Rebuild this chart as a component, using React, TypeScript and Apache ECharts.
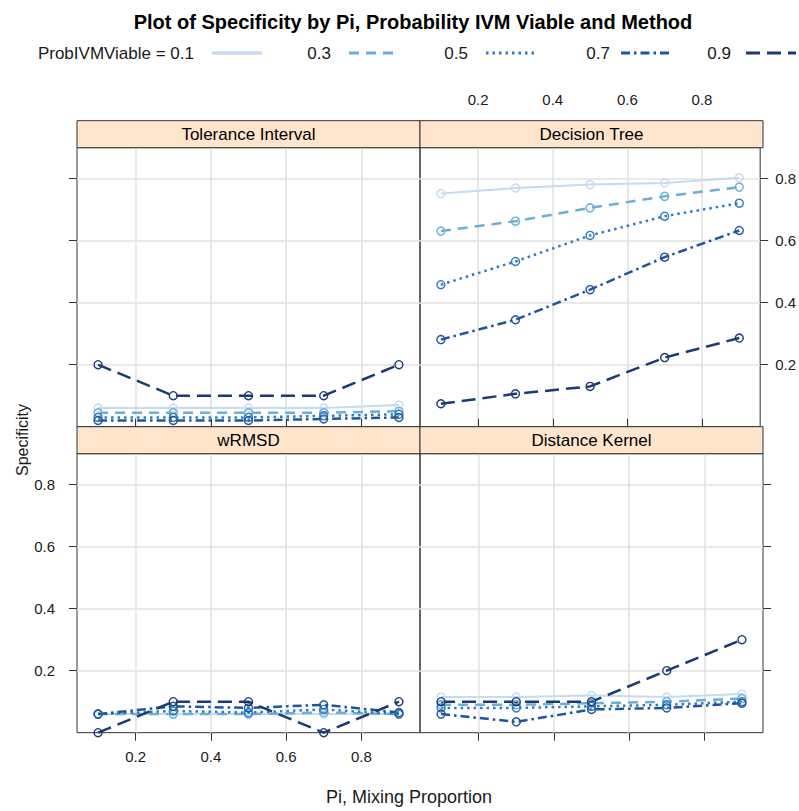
import React, { useEffect, useRef } from 'react';
import * as echarts from 'echarts';

// ---------- data ----------
const piValues = [0.1, 0.3, 0.5, 0.7, 0.9];
const probLevels = ['0.1', '0.3', '0.5', '0.7', '0.9'];
const methodNames = ['Tolerance Interval', 'Decision Tree', 'wRMSD', 'Distance Kernel'];
const xTickValues = [0.2, 0.4, 0.6, 0.8];
const yTickValues = [0.2, 0.4, 0.6, 0.8];

// rows: ProbIVMViable 0.1, 0.3, 0.5, 0.7, 0.9 ; columns: Pi 0.1..0.9
const toleranceInterval = [
  [0.06, 0.06, 0.06, 0.06, 0.07],
  [0.045, 0.045, 0.045, 0.045, 0.05],
  [0.03, 0.03, 0.03, 0.035, 0.04],
  [0.02, 0.02, 0.02, 0.025, 0.03],
  [0.2, 0.1, 0.1, 0.1, 0.2],
];
const decisionTree = [
  [0.752, 0.77, 0.781, 0.786, 0.803],
  [0.631, 0.663, 0.706, 0.743, 0.773],
  [0.458, 0.533, 0.617, 0.679, 0.721],
  [0.281, 0.345, 0.442, 0.547, 0.633],
  [0.074, 0.106, 0.13, 0.223, 0.286],
];
const wRMSD = [
  [0.06, 0.06, 0.06, 0.06, 0.06],
  [0.06, 0.06, 0.06, 0.065, 0.06],
  [0.06, 0.07, 0.065, 0.075, 0.06],
  [0.06, 0.085, 0.08, 0.09, 0.065],
  [0.0, 0.1, 0.1, 0.0, 0.1],
];
const distanceKernel = [
  [0.115, 0.115, 0.12, 0.115, 0.125],
  [0.09, 0.09, 0.095, 0.1, 0.11],
  [0.08, 0.08, 0.085, 0.09, 0.1],
  [0.06, 0.035, 0.075, 0.08, 0.095],
  [0.1, 0.1, 0.1, 0.2, 0.3],
];
const methodData = [toleranceInterval, decisionTree, wRMSD, distanceKernel];

// ---------- styles ----------
const FONT = '"Liberation Sans Narrow", "Arial Narrow", "Liberation Sans", Arial, sans-serif';
const levelColors = ['#c6dbef', '#6baed6', '#2f7bbf', '#1f559e', '#1b3a72'];
const levelDash: any[] = ['solid', [10, 7], [2.5, 4], [9, 4, 2.5, 4], [14, 7]];
const levelWidth = [2, 2.5, 2.5, 2.5, 2.5];
const stripFill = '#ffe5cc';
const frameColor = '#333333';
const textColor = '#1a1a1a';

const panelW = 343;
const panelH = 279;
const stripH = 27;
const colLeft = [77, 420];
const rowTop = [147.7, 453.7];

export default function App() {
  const ref = useRef<HTMLDivElement>(null);

  useEffect(() => {
    document.body.style.margin = '0';
    if (!ref.current) return;
    const chart = echarts.init(ref.current, null, { renderer: 'svg' });

    const panels = [0, 1, 2, 3].map((i) => ({
      left: colLeft[i % 2],
      top: rowTop[Math.floor(i / 2)],
    }));

    const grids = panels.map((p) => ({
      left: p.left,
      top: p.top,
      width: panelW,
      height: panelH,
      show: true,
      borderColor: frameColor,
      borderWidth: 1,
      backgroundColor: 'transparent',
    }));

    // lattice-style alternating axes
    const xLabelShown = [false, true, true, false];
    const yLabelShown = [false, true, true, false];

    const xAxes = panels.map((_, i) => {
      const isTop = i < 2;
      return {
        type: 'value',
        gridIndex: i,
        min: 0.044,
        max: 0.956,
        position: isTop ? 'top' : 'bottom',
        offset: isTop ? stripH : 0,
        axisLine: { show: false },
        axisTick: {
          show: true,
          inside: false,
          length: 8,
          lineStyle: { color: frameColor, width: 1 },
          customValues: xTickValues,
        },
        axisLabel: {
          show: xLabelShown[i],
          customValues: xTickValues,
          formatter: (v: number) => v.toFixed(1),
          fontFamily: FONT,
          fontSize: 15,
          color: textColor,
          margin: isTop ? 14 : 16,
        },
        splitLine: { show: true, lineStyle: { color: '#e2e2e2', width: 1.6 } },
      };
    });

    const yAxes = panels.map((_, i) => {
      const isLeft = i % 2 === 0;
      return {
        type: 'value',
        gridIndex: i,
        min: 0,
        max: 0.9,
        position: isLeft ? 'left' : 'right',
        axisLine: { show: false },
        axisTick: {
          show: true,
          inside: false,
          length: 8,
          lineStyle: { color: frameColor, width: 1 },
          customValues: yTickValues,
        },
        axisLabel: {
          show: yLabelShown[i],
          customValues: yTickValues,
          formatter: (v: number) => v.toFixed(1),
          fontFamily: FONT,
          fontSize: 15,
          color: textColor,
          margin: isLeft ? 22 : 15,
        },
        splitLine: { show: true, lineStyle: { color: '#e2e2e2', width: 1.6 } },
      };
    });

    const series: any[] = [];
    methodData.forEach((rows, m) => {
      rows.forEach((vals, l) => {
        series.push({
          type: 'line',
          name: `${methodNames[m]} ProbIVMViable=${probLevels[l]}`,
          xAxisIndex: m,
          yAxisIndex: m,
          data: piValues.map((x, k) => [x, vals[k]]),
          symbol: 'circle',
          symbolSize: 8,
          showSymbol: true,
          clip: false,
          itemStyle: { color: 'transparent', borderColor: levelColors[l], borderWidth: 1.4 },
          lineStyle: { color: levelColors[l], width: levelWidth[l], type: levelDash[l] },
          emphasis: { disabled: true },
          z: 3,
        });
      });
    });

    const graphics: any[] = [];
    // title
    graphics.push({
      type: 'text',
      x: 413,
      y: 22,
      style: {
        text: 'Plot of Specificity by Pi, Probability IVM Viable and Method',
        font: `bold 20px ${FONT}`,
        fill: '#000',
        align: 'center',
        verticalAlign: 'middle',
      },
    });
    // legend
    const legendText = ['ProbIVMViable = 0.1', '0.3', '0.5', '0.7', '0.9'];
    const legendTextRight = [194, 331, 468, 610, 731];
    const legendLineStart = [212, 349, 486, 621, 746];
    legendText.forEach((t, l) => {
      graphics.push({
        type: 'text',
        x: legendTextRight[l],
        y: 53,
        style: { text: t, font: `17px ${FONT}`, fill: textColor, align: 'right', verticalAlign: 'middle' },
      });
      graphics.push({
        type: 'line',
        shape: { x1: legendLineStart[l], y1: 53, x2: legendLineStart[l] + 50, y2: 53 },
        style: {
          stroke: levelColors[l],
          lineWidth: l === 0 ? 3.5 : 3,
          lineDash: levelDash[l] === 'solid' ? null : levelDash[l],
        },
      });
    });
    // strips
    panels.forEach((p, i) => {
      graphics.push({
        type: 'rect',
        shape: { x: p.left, y: p.top - stripH, width: panelW, height: stripH },
        style: { fill: stripFill, stroke: frameColor, lineWidth: 1 },
        z: 10,
      });
      graphics.push({
        type: 'text',
        x: p.left + panelW / 2,
        y: p.top - stripH / 2,
        style: {
          text: methodNames[i],
          font: `17px ${FONT}`,
          fill: '#000',
          align: 'center',
          verticalAlign: 'middle',
        },
        z: 11,
      });
    });
    // axis titles
    graphics.push({
      type: 'text',
      x: 22,
      y: 440,
      rotation: Math.PI / 2,
      style: { text: 'Specificity', font: `16px ${FONT}`, fill: textColor, align: 'center', verticalAlign: 'middle' },
    });
    graphics.push({
      type: 'text',
      x: 409,
      y: 797,
      style: {
        text: 'Pi, Mixing Proportion',
        font: `18px ${FONT}`,
        fill: textColor,
        align: 'center',
        verticalAlign: 'middle',
      },
    });

    chart.setOption({
      animation: false,
      backgroundColor: '#ffffff',
      grid: grids,
      xAxis: xAxes,
      yAxis: yAxes,
      series,
      graphic: graphics,
    });

    return () => chart.dispose();
  }, []);

  return <div ref={ref} style={{ width: 799, height: 811 }} />;
}
